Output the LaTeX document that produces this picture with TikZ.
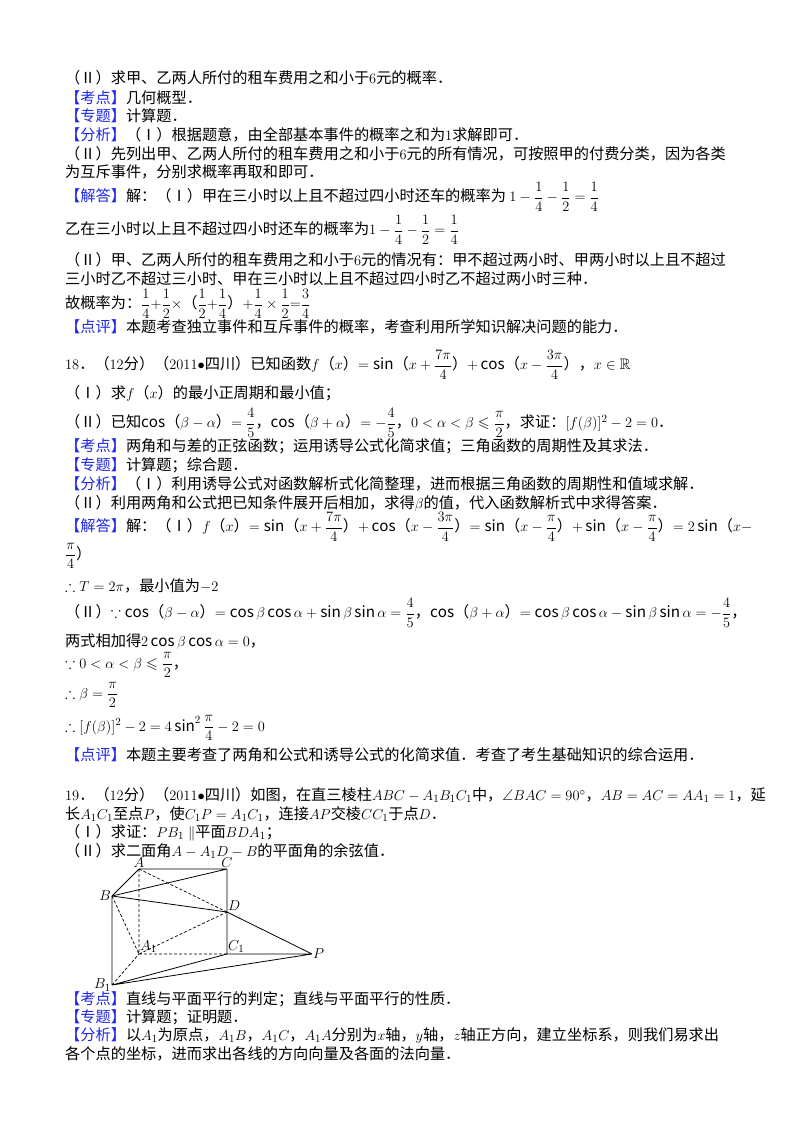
\documentclass[tikz,border=0pt]{standalone}
\usepackage{amsmath,amssymb}
\usepackage{fontspec}
\setmainfont{Noto Sans CJK SC}
\definecolor{lbblue}{RGB}{30,40,230}
\newcommand\lb[1]{{\color{lbblue}【#1】}}
\newcommand\df[2]{\displaystyle\frac{#1}{#2}}
\tikzset{ln/.style={anchor=west,inner sep=0pt,font=\fontsize{15.2}{17}\selectfont},
 seg/.style={line width=0.8pt},dsh/.style={line width=0.7pt,dashed,dash pattern=on 3pt off 2pt},
 lab/.style={inner sep=1pt,font=\fontsize{15}{16}\selectfont}}
\begin{document}
\begin{tikzpicture}[x=1pt,y=-1pt]
\useasboundingbox[fill=white] (0,0) rectangle (800,1132);
\node[ln] (l1) at (65,78) {（Ⅱ）求甲、乙两人所付的租车费用之和小于$6$元的概率．};
\node[ln] (l2) at (65,98) {\lb{考点}几何概型．};
\node[ln] (l3) at (65,116) {\lb{专题}计算题．};
\node[ln] (l4) at (65,135) {\lb{分析}（Ⅰ）根据题意，由全部基本事件的概率之和为$1$求解即可．};
\node[ln] (l5) at (65,154) {（Ⅱ）先列出甲、乙两人所付的租车费用之和小于$6$元的所有情况，可按照甲的付费分类，因为各类};
\node[ln] (l6) at (65,172) {为互斥事件，分别求概率再取和即可．};
\node[ln] (l7) at (65,197) {\lb{解答}解：（Ⅰ）甲在三小时以上且不超过四小时还车的概率为 $1-\df14-\df12=\df14$};
\node[ln] (l8) at (65,230) {乙在三小时以上且不超过四小时还车的概率为$1-\df14-\df12=\df14$};
\node[ln] (l9) at (65,260) {（Ⅱ）甲、乙两人所付的租车费用之和小于$6$元的情况有：甲不超过两小时、甲两小时以上且不超过};
\node[ln] (l10) at (65,279) {三小时乙不超过三小时、甲在三小时以上且不超过四小时乙不超过两小时三种．};
\node[ln] (l11) at (65,304) {故概率为：$\df14{+}\df12\times$（$\df12{+}\df14$）$+\df14\times\df12{=}\df34$};
\node[ln] (l12) at (65,327) {\lb{点评}本题考查独立事件和互斥事件的概率，考查利用所学知识解决问题的能力．};
\node[ln] (l13) at (65,365) {$18$．（$12$分）（$2011\bullet$四川）已知函数$f$（$x$）$=\sin$（$x+\df{7\pi}4$）$+\cos$（$x-\df{3\pi}4$），$x\in\mathbb R$};
\node[ln] (l14) at (65,393) {（Ⅰ）求$f$（$x$）的最小正周期和最小值；};
\node[ln] (l15) at (65,423) {（Ⅱ）已知$\cos$（$\beta-\alpha$）$=\df45$，$\cos$（$\beta+\alpha$）$=-\df45$，$0<\alpha<\beta\leqslant\df{\pi}2$，求证：$[f(\beta)]^2-2=0$．};
\node[ln] (l16) at (65,446) {\lb{考点}两角和与差的正弦函数；运用诱导公式化简求值；三角函数的周期性及其求法．};
\node[ln] (l17) at (65,465) {\lb{专题}计算题；综合题．};
\node[ln] (l18) at (65,484) {\lb{分析}（Ⅰ）利用诱导公式对函数解析式化简整理，进而根据三角函数的周期性和值域求解．};
\node[ln] (l19) at (65,503) {（Ⅱ）利用两角和公式把已知条件展开后相加，求得$\beta$的值，代入函数解析式中求得答案．};
\node[ln] (l20) at (65,527) {\lb{解答}解：（Ⅰ）$f$（$x$）$=\sin$（$x+\df{7\pi}4$）$+\cos$（$x-\df{3\pi}4$）$=\sin$（$x-\df{\pi}4$）$+\sin$（$x-\df{\pi}4$）$=2\sin$（$x-$};
\node[ln] (l21) at (65,556) {$\df{\pi}4$）};
\node[ln] (l22) at (65,586) {$\therefore T=2\pi$，最小值为$-2$};
\node[ln] (l23) at (65,613) {（Ⅱ）$\because\cos$（$\beta-\alpha$）$=\cos\beta\cos\alpha+\sin\beta\sin\alpha=\df45$，$\cos$（$\beta+\alpha$）$=\cos\beta\cos\alpha-\sin\beta\sin\alpha=-\df45$，};
\node[ln] (l24) at (65,642) {两式相加得$2\cos\beta\cos\alpha=0$，};
\node[ln] (l25) at (65,665) {$\because 0<\alpha<\beta\leqslant\df{\pi}2$，};
\node[ln] (l26) at (65,695) {$\therefore\beta=\df{\pi}2$};
\node[ln] (l27) at (65,728) {$\therefore[f(\beta)]^2-2=4\sin^2\df{\pi}4-2=0$};
\node[ln] (l28) at (65,755) {\lb{点评}本题主要考查了两角和公式和诱导公式的化简求值．考查了考生基础知识的综合运用．};
\node[ln] (l29) at (65,795) {$19$．（$12$分）（$2011\bullet$四川）如图，在直三棱柱$ABC-A_1B_1C_1$中，$\angle BAC=90^\circ$，$AB=AC=AA_1=1$，延};
\node[ln] (l30) at (65,814) {长$A_1C_1$至点$P$，使$C_1P=A_1C_1$，连接$AP$交棱$CC_1$于点$D$．};
\node[ln] (l31) at (65,833) {（Ⅰ）求证：$PB_1\parallel$平面$BDA_1$；};
\node[ln] (l32) at (65,851) {（Ⅱ）求二面角$A-A_1D-B$的平面角的余弦值．};
\node[ln] (l33) at (65,999) {\lb{考点}直线与平面平行的判定；直线与平面平行的性质．};
\node[ln] (l34) at (65,1017) {\lb{专题}计算题；证明题．};
\node[ln] (l35) at (65,1035) {\lb{分析}以$A_1$为原点，$A_1B$，$A_1C$，$A_1A$分别为$x$轴，$y$轴，$z$轴正方向，建立坐标系，则我们易求出};
\node[ln] (l36) at (65,1054) {各个点的坐标，进而求出各线的方向向量及各面的法向量．};
% figure
\coordinate (A) at (139,869); \coordinate (C) at (227,869);
\coordinate (B) at (112,896); \coordinate (D) at (227,912);
\coordinate (A1) at (139,954); \coordinate (C1) at (227,954);
\coordinate (P) at (312,954); \coordinate (B1) at (112,985);
\draw[seg] (A)--(C) (A)--(B) (B)--(C) (B)--(D) (D)--(P) (C)--(C1) (C1)--(P) (B1)--(P) (B1)--(C1) (B)--(B1);
\draw[dsh] (A)--(A1) (A)--(D) (B)--(A1) (A1)--(D) (A1)--(C1) (B1)--(A1);
\node[lab,above] (tA) at (A) {$A$};
\node[lab,above] (tC) at (C) {$C$};
\node[lab,left] (tB) at (B) {$B$};
\node[lab,above right] (tD) at (D) {$D$};
\node[lab,above right] (tA1) at (A1) {$A_1$};
\node[lab,above right] (tC1) at (C1) {$C_1$};
\node[lab,right] (tP) at (P) {$P$};
\node[lab,left] (tB1) at (B1) {$B_1$};
\end{tikzpicture}
\end{document}
